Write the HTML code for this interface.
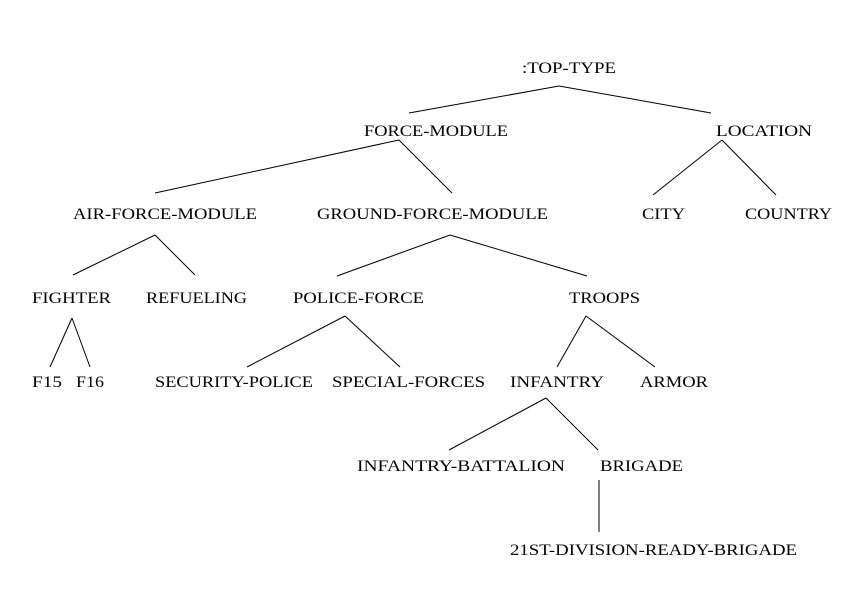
<!DOCTYPE html>
<html><head><meta charset="utf-8"><style>html,body{margin:0;padding:0;background:#fff}svg{display:block}</style></head>
<body>
<svg width="867" height="590" viewBox="0 0 867 590" xmlns="http://www.w3.org/2000/svg">
<g stroke="#000" stroke-width="1" fill="none">
<line x1="559" y1="86" x2="409" y2="113"/>
<line x1="559" y1="86" x2="711" y2="113"/>
<line x1="399" y1="140" x2="155" y2="193"/>
<line x1="399" y1="140" x2="452" y2="193"/>
<line x1="722" y1="140" x2="653" y2="195"/>
<line x1="722" y1="140" x2="776" y2="195"/>
<line x1="155" y1="235" x2="73" y2="275"/>
<line x1="155" y1="235" x2="195" y2="275"/>
<line x1="450" y1="235" x2="337" y2="276"/>
<line x1="450" y1="235" x2="587" y2="276"/>
<line x1="72" y1="318" x2="50" y2="367"/>
<line x1="72" y1="318" x2="90" y2="367"/>
<line x1="345" y1="316" x2="247" y2="367"/>
<line x1="345" y1="316" x2="400" y2="367"/>
<line x1="586" y1="316" x2="557" y2="367"/>
<line x1="586" y1="316" x2="655" y2="367"/>
<line x1="546" y1="398" x2="449" y2="450"/>
<line x1="546" y1="398" x2="598" y2="450"/>
<line x1="599" y1="480" x2="599" y2="532"/>
</g>
<g font-family="Liberation Serif, serif" font-size="16" fill="#000">
<text x="522" y="73" textLength="94" lengthAdjust="spacingAndGlyphs">:TOP-TYPE</text>
<text x="364" y="136" textLength="144" lengthAdjust="spacingAndGlyphs">FORCE-MODULE</text>
<text x="716" y="136" textLength="96" lengthAdjust="spacingAndGlyphs">LOCATION</text>
<text x="73" y="219" textLength="184" lengthAdjust="spacingAndGlyphs">AIR-FORCE-MODULE</text>
<text x="317" y="219" textLength="231" lengthAdjust="spacingAndGlyphs">GROUND-FORCE-MODULE</text>
<text x="642" y="219" textLength="43" lengthAdjust="spacingAndGlyphs">CITY</text>
<text x="745" y="219" textLength="87" lengthAdjust="spacingAndGlyphs">COUNTRY</text>
<text x="32" y="303" textLength="79" lengthAdjust="spacingAndGlyphs">FIGHTER</text>
<text x="146" y="303" textLength="101" lengthAdjust="spacingAndGlyphs">REFUELING</text>
<text x="293" y="303" textLength="131" lengthAdjust="spacingAndGlyphs">POLICE-FORCE</text>
<text x="569" y="303" textLength="71" lengthAdjust="spacingAndGlyphs">TROOPS</text>
<text x="32" y="387" textLength="30" lengthAdjust="spacingAndGlyphs">F15</text>
<text x="76" y="387" textLength="28" lengthAdjust="spacingAndGlyphs">F16</text>
<text x="155" y="387" textLength="158" lengthAdjust="spacingAndGlyphs">SECURITY-POLICE</text>
<text x="332" y="387" textLength="153" lengthAdjust="spacingAndGlyphs">SPECIAL-FORCES</text>
<text x="510" y="387" textLength="94" lengthAdjust="spacingAndGlyphs">INFANTRY</text>
<text x="640" y="387" textLength="68" lengthAdjust="spacingAndGlyphs">ARMOR</text>
<text x="357" y="471" textLength="208" lengthAdjust="spacingAndGlyphs">INFANTRY-BATTALION</text>
<text x="600" y="471" textLength="83" lengthAdjust="spacingAndGlyphs">BRIGADE</text>
<text x="510" y="555" textLength="287" lengthAdjust="spacingAndGlyphs">21ST-DIVISION-READY-BRIGADE</text>
</g>
</svg>
</body></html>
